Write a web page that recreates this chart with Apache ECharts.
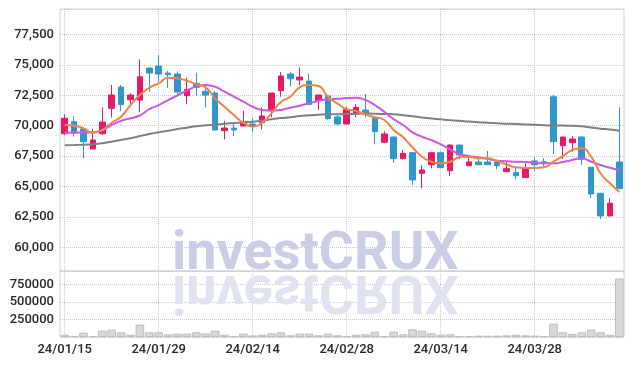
<!DOCTYPE html>
<html><head><meta charset="utf-8">
<script src="https://cdn.jsdelivr.net/npm/echarts@6/dist/echarts.min.js"></script>
<style>html,body{margin:0;padding:0;background:#fff}#c{width:634px;height:366px}</style>
</head><body><div id="c"></div>
<script>
const dates = ['24/01/15','24/01/16','24/01/17','24/01/18','24/01/19','24/01/22','24/01/23','24/01/24','24/01/25','24/01/26',
'24/01/29','24/01/30','24/01/31','24/02/01','24/02/02','24/02/05','24/02/06','24/02/07','24/02/08','24/02/13',
'24/02/14','24/02/15','24/02/16','24/02/19','24/02/20','24/02/21','24/02/22','24/02/23','24/02/26','24/02/27',
'24/02/28','24/02/29','24/03/04','24/03/05','24/03/06','24/03/07','24/03/08','24/03/11','24/03/12','24/03/13',
'24/03/14','24/03/15','24/03/18','24/03/19','24/03/20','24/03/21','24/03/22','24/03/25','24/03/26','24/03/27',
'24/03/28','24/03/29','24/04/01','24/04/02','24/04/03','24/04/04','24/04/05','24/04/08','24/04/09','24/04/11'];

const openP = [69340,70330,69730,68090,69340,71430,73180,72140,72110,74740,
74910,74330,74250,72470,73490,72830,72690,69590,69810,69980,
70140,70250,71230,72880,74250,73760,73670,72060,72440,70720,
70140,70960,71290,70610,68640,69070,67290,67780,66090,66790,
67780,66300,68410,66710,67020,67020,67020,66220,66140,65730,
67100,67040,72380,68360,68600,69070,66580,64440,62580,67020];
const closeP = [70610,69380,68690,68830,70300,72520,71730,72520,74030,74330,
74250,74190,72770,72990,73160,72520,69650,69810,69650,70200,
70030,70800,72690,74090,73860,74000,71760,72520,70580,70140,
71350,71510,70940,69510,69320,67290,67730,65540,66360,67780,
66550,68410,67590,67020,66790,66790,66710,66470,65890,66520,
66790,66910,68690,69070,68910,67240,64390,62580,63620,64820];
const lowP = [69240,69100,67320,68050,69240,70660,71210,71640,71100,72800,
73620,73120,72380,71760,72440,71510,69600,68880,69150,69950,
69510,69700,70690,72380,73260,73350,71700,71290,70500,70030,
70100,70690,70690,68470,68600,66960,67240,65130,64850,66500,
66500,65870,67240,66680,66750,66760,66420,66180,65590,65700,
66300,66630,67670,67260,67860,66790,64030,62310,62550,64800];
const highP = [70940,70800,69800,69730,71510,73350,73350,72660,75460,74800,
75810,74500,74470,73950,74360,73150,72850,70390,70140,71230,
70610,71510,72700,74410,74410,74800,74310,72580,72520,71020,
71560,71780,72610,70650,69540,69100,68000,67800,66750,67860,
67860,68450,68450,67400,67450,67920,67050,67040,66580,66910,
67400,67350,72520,69100,69150,69120,66600,64480,64030,71510];

const ma5 = [70058,70000,69786,69425,69647,70247,70740,71700,72524,73124,
73485,73946,73896,73699,73403,73156,72252,71562,70880,70247,
69918,70247,71019,71950,72384,73156,73346,73263,72384,71841,
71348,71208,70937,70690,70469,69650,69046,68224,67452,67041,
66909,67041,67402,67452,67320,67320,67098,66810,66580,66523,
66523,66580,67041,67509,68003,68142,67452,66087,65265,64550];
const ma20 = [69425,69440,69450,69450,69630,70060,70400,70610,70840,71360,
71700,72100,72500,72900,73220,73346,73206,72795,72384,71973,
71562,71290,71233,71290,71480,71644,71841,72055,72170,72219,
72277,72302,72113,71700,71151,70540,70058,69457,69096,68825,
68471,68060,67674,67509,67402,67263,67123,67085,67041,67016,
66959,66909,66909,67016,67180,67320,67041,66770,66548,66359];
const ma60 = [68389,68410,68440,68471,68553,68685,68825,68964,69153,69318,
69457,69589,69729,69836,69950,70033,70082,70164,70222,70280,
70329,70411,70526,70633,70690,70797,70855,70904,70937,70937,
70962,70986,71019,70986,70962,70950,70870,70770,70680,70600,
70530,70460,70410,70340,70290,70250,70210,70170,70150,70110,
70070,70040,70020,70010,70000,69950,69850,69760,69680,69590];
const volume = [33000,14000,62000,14000,90000,105000,67000,33000,176000,67000,
67000,38000,48000,48000,67000,52000,90000,33000,14000,48000,
24000,33000,52000,67000,24000,48000,48000,24000,48000,24000,
14000,33000,38000,76000,14000,76000,38000,110000,90000,52000,
33000,38000,14000,14000,19000,19000,19000,24000,33000,24000,
19000,14000,190000,67000,43000,67000,105000,67000,33000,833000];

const candles = dates.map((d, i) => [openP[i], closeP[i], lowP[i], highP[i]]);

const dotted = {type: 'dotted', color: '#c3c7d8', width: 1};
const labelStyle = {color: '#2a2a2a', fontSize: 13, fontFamily: 'Roboto', fontWeight: 500};

const chart = echarts.init(document.getElementById('c'), null, {renderer: 'canvas'});
chart.setOption({
  animation: false,
  textStyle: {fontFamily: 'Roboto'},
  grid: [
    {left: 60, right: 10, top: 9, height: 262, show: true, borderColor: '#d2d2d2', borderWidth: 1},
    {left: 60, right: 10, top: 271, height: 66, show: true, borderColor: '#d2d2d2', borderWidth: 1}
  ],
  graphic: [
    {type: 'text', x: 172, y: 272, z: 1, silent: true,
     style: {text: 'investCRUX', font: 'bold 54px Roboto', fill: '#c9cee4', verticalAlign: 'bottom', y: 10}},
    {type: 'text', x: 172, y: 272, scaleY: -1, z: 1, silent: true,
     style: {text: 'investCRUX', font: 'bold 54px Roboto', fill: '#dfe2ef', verticalAlign: 'bottom', y: 10}}
  ],
  xAxis: [
    {type: 'category', data: dates, gridIndex: 0, boundaryGap: true,
     axisLine: {show: false}, axisTick: {show: false}, axisLabel: {show: false},
     splitLine: {show: true, interval: 9, alignWithLabel: true, lineStyle: dotted}},
    {type: 'category', data: dates, gridIndex: 1, boundaryGap: true,
     axisLine: {show: false}, axisTick: {show: false},
     axisLabel: Object.assign({interval: 9, margin: 6}, labelStyle),
     splitLine: {show: true, interval: 9, alignWithLabel: true, lineStyle: dotted}}
  ],
  yAxis: [
    {type: 'value', gridIndex: 0, min: 58050, max: 79600, minInterval: 2500, maxInterval: 2500,
     axisLine: {show: false}, axisTick: {show: false},
     axisLabel: Object.assign({showMinLabel: false, showMaxLabel: false, margin: 6, padding: [5, 0, 0, 0]}, labelStyle),
     splitLine: {show: true, lineStyle: dotted}},
    {type: 'value', gridIndex: 1, min: 0, max: 940000, interval: 250000,
     axisLine: {show: false}, axisTick: {show: false},
     axisLabel: Object.assign({showMinLabel: false, showMaxLabel: false, margin: 6, padding: [3, 0, 0, 0], formatter: v => String(v)}, labelStyle),
     splitLine: {show: true, lineStyle: dotted}}
  ],
  series: [
    {type: 'candlestick', xAxisIndex: 0, yAxisIndex: 0, data: candles, barWidth: 6, z: 3,
     itemStyle: {color: '#e8196a', color0: '#3197ca', borderColor: '#e8196a', borderColor0: '#3197ca', borderWidth: 1}},
    {type: 'line', xAxisIndex: 0, yAxisIndex: 0, data: ma60, smooth: true, showSymbol: false, z: 4,
     lineStyle: {color: '#808080', width: 2}},
    {type: 'line', xAxisIndex: 0, yAxisIndex: 0, data: ma20, smooth: true, showSymbol: false, z: 4,
     lineStyle: {color: '#c95ae8', width: 2}},
    {type: 'line', xAxisIndex: 0, yAxisIndex: 0, data: ma5, smooth: true, showSymbol: false, z: 5,
     lineStyle: {color: '#ee8547', width: 2}},
    {type: 'bar', xAxisIndex: 1, yAxisIndex: 1, data: volume, barCategoryGap: '8%', z: 3,
     itemStyle: {color: '#d8d8d8', borderColor: '#bdbdbd', borderWidth: 1}}
  ]
});
</script></body></html>
